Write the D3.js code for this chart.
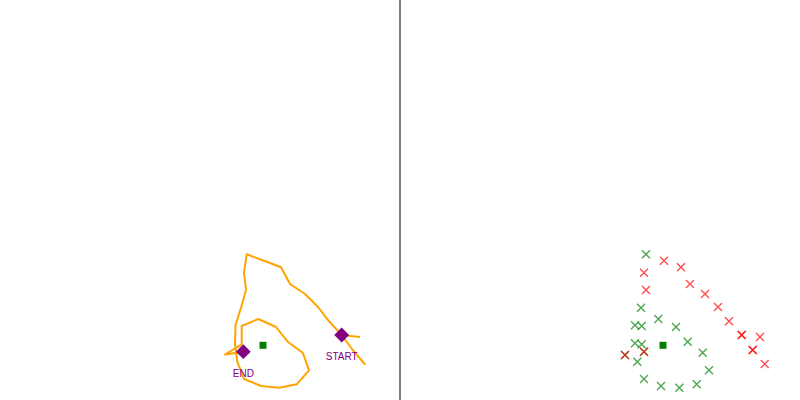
<!DOCTYPE html>
<html>
<head>
<meta charset="utf-8">
<script src="https://cdn.jsdelivr.net/npm/d3@7"></script>
<style>
  html, body { margin: 0; padding: 0; background: #fff; }
  svg { display: block; }
</style>
</head>
<body>
<svg id="chart" width="800" height="400"></svg>
<script>
// Trajectory (left panel), in panel coordinates
const pathX = [360, 341.7, 352.7, 364.7, 352.7, 341.7, 329, 318, 305, 290, 281, 264, 246.7, 244, 246, 241, 235.5, 235, 237.3, 244, 261, 279.3, 296.7, 309, 302.7, 287.7, 276, 258.3, 241.7, 241.7, 225, 243.3];
const pathY = [337, 335, 350, 364, 350, 335, 321.3, 307, 294, 284, 267.3, 260.7, 254.3, 272.7, 290, 307.7, 325.3, 343.3, 361.7, 379, 386, 387.7, 384.3, 370.3, 352.7, 341.7, 327, 319, 326, 344.3, 354.5, 351.7];

// Markers
const startPoint = [341.7, 335];
const endPoint = [243.3, 351.7];
const centroid = [263, 345.3];
const labels = ["START", "END"];

// Sample points (right panel), in the same panel coordinates
const redX = [264, 281, 244, 290, 246, 305, 318, 329, 341.7, 341.7, 360, 352.7, 352.7, 364.7, 244, 225];
const redY = [260.7, 267.3, 272.7, 284, 290, 294, 307, 321.3, 335, 335, 337, 350, 350, 364, 351.7, 355];
const greenX = [246, 241, 258.3, 235, 241.7, 276, 235, 241.7, 287.7, 302.7, 309, 237.3, 244, 261, 279.3, 296.7, 225, 244];
const greenY = [254.3, 307.7, 319, 325.3, 326, 327, 343.3, 344.3, 341.7, 352.7, 370.3, 361.7, 379, 386, 387.7, 384.3, 355, 351.7];

const svg = d3.select("#chart");
const W = 800, H = 400, panelW = 400;

const x = d3.scaleLinear().domain([0, 400]).range([0, panelW]);
const y = d3.scaleLinear().domain([0, 400]).range([0, H]);

const left = svg.append("g");
const right = svg.append("g").attr("transform", `translate(${panelW},0)`);

// Left panel: path
const pts = pathX.map((d, i) => [d, pathY[i]]);
left.append("path")
  .datum(pts)
  .attr("fill", "none")
  .attr("stroke", "orange")
  .attr("stroke-width", 2)
  .attr("stroke-linejoin", "round")
  .attr("d", d3.line().x(d => x(d[0])).y(d => y(d[1])));

// centroid
function drawCentroid(g) {
  g.append("rect")
    .attr("x", x(centroid[0]) - 3.5)
    .attr("y", y(centroid[1]) - 3.5)
    .attr("width", 7)
    .attr("height", 7)
    .attr("fill", "green");
}
drawCentroid(left);

// start/end diamonds and labels
const ends = [startPoint, endPoint];
left.selectAll("path.diamond")
  .data(ends)
  .join("path")
  .attr("class", "diamond")
  .attr("d", d3.symbol().type(d3.symbolSquare).size(110))
  .attr("transform", d => `translate(${x(d[0])},${y(d[1])}) rotate(45)`)
  .attr("fill", "purple");

left.selectAll("text.lbl")
  .data(ends)
  .join("text")
  .attr("class", "lbl")
  .attr("x", d => x(d[0]))
  .attr("y", d => y(d[1]) + 25)
  .attr("text-anchor", "middle")
  .attr("font-family", "Liberation Sans, Arial, sans-serif")
  .attr("font-size", 10)
  .attr("fill", "purple")
  .text((d, i) => labels[i]);

// Divider
svg.append("line")
  .attr("x1", panelW).attr("x2", panelW)
  .attr("y1", 0).attr("y2", H)
  .attr("stroke", "gray")
  .attr("stroke-width", 2);

// Right panel: x marks
function drawX(g, xs, ys, color) {
  const s = 4;
  g.selectAll(null)
    .data(xs.map((d, i) => [d, ys[i]]))
    .join("path")
    .attr("d", d => {
      const cx = x(d[0]), cy = y(d[1]);
      return `M${cx - s},${cy - s}L${cx + s},${cy + s}M${cx - s},${cy + s}L${cx + s},${cy - s}`;
    })
    .attr("stroke", color)
    .attr("stroke-width", 1.4)
    .attr("stroke-opacity", 0.7)
    .attr("fill", "none");
}
drawX(right, greenX, greenY, "green");
drawX(right, redX, redY, "red");
drawCentroid(right);
</script>
</body>
</html>
